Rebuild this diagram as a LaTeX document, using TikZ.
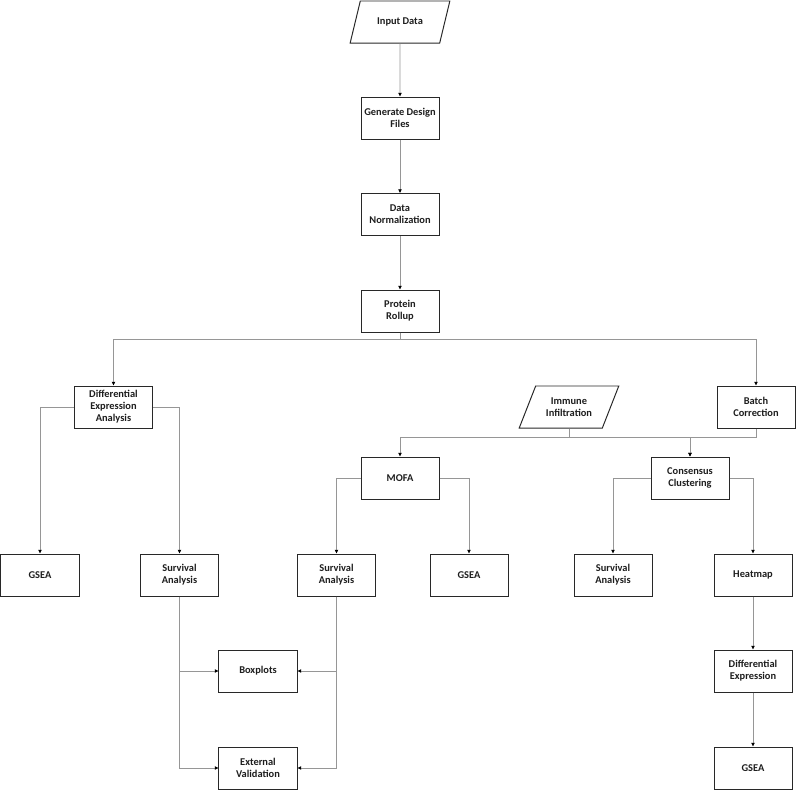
\documentclass[tikz,border=0pt]{standalone}
\usepackage{fontspec}
\setmainfont{Carlito}
\usepackage{tikz}
\usetikzlibrary{arrows.meta,positioning,shapes.geometric}
\definecolor{boxline}{RGB}{40,40,40}
\definecolor{wireline}{RGB}{150,150,150}
\definecolor{txtcolor}{RGB}{30,30,30}
\tikzset{
  box/.style    = {draw=boxline,line width=0.7pt,fill=white,
                   minimum width=1.95cm,minimum height=1.05cm,
                   align=center,inner sep=1pt,
                   font=\fontsize{7.4}{8.6}\selectfont\bfseries,text=txtcolor},
  para/.style   = {box,trapezium,trapezium left angle=61,trapezium right angle=119,
                   trapezium stretches=true,minimum width=2.5cm},
  arrow/.style  = {-{Triangle[length=2.6pt,width=2.4pt,color=black]},
                   color=wireline,line width=0.5pt},
}
\begin{document}
\begin{tikzpicture}[x=0.025cm,y=-0.025cm]
  \useasboundingbox (0,0) rectangle (797,790);
  % main trunk
  \node[para] (input)  at (400,22)    {Input Data};
  \node[box]  (design) at (400,118)   {Generate Design\\Files};
  \node[box]  (norm)   at (400,214.5) {Data\\Normalization};
  \node[box]  (rollup) at (400,311)   {Protein\\Rollup};
  % second level
  \node[box]  (dea)    at (113.5,407) {Differential\\Expression\\Analysis};
  \node[para] (immune) at (569,407)   {Immune\\Infiltration};
  \node[box]  (batch)  at (756,407)   {Batch\\Correction};
  \node[box]  (mofa)   at (400,478)   {MOFA};
  \node[box]  (cons)   at (690,478)   {Consensus\\Clustering};
  % result row
  \node[box]  (gseaA)  at (40,575)    {GSEA};
  \node[box]  (survA)  at (179.5,575) {Survival\\Analysis};
  \node[box]  (survB)  at (336.5,575) {Survival\\Analysis};
  \node[box]  (gseaB)  at (469,575)   {GSEA};
  \node[box]  (survC)  at (613,575)   {Survival\\Analysis};
  \node[box]  (heat)   at (753,575)   {Heatmap};
  \node[box]  (boxpl)  at (258,671)   {Boxplots};
  \node[box]  (extval) at (258,768)   {External\\Validation};
  \node[box]  (diffex) at (753,671)   {Differential\\Expression};
  \node[box]  (gseaC)  at (753,768)   {GSEA};

  \draw[arrow] (input) -- (design);
  \draw[arrow] (design) -- (norm);
  \draw[arrow] (norm) -- (rollup);
  \draw[arrow] (rollup.south) -- ++(0,7) -| (dea.north);
  \draw[arrow] (rollup.south) -- ++(0,7) -| (batch.north);
  \draw[arrow] (immune.south) -- ++(0,9) -| (mofa.north);
  \draw[arrow] (immune.south) -- ++(0,9) -| (cons.north);
  \draw[arrow] (batch.south) -- ++(0,9) -| (cons.north);
  \draw[arrow] (dea.west) -| (gseaA.north);
  \draw[arrow] (dea.east) -| (survA.north);
  \draw[arrow] (mofa.west) -| (survB.north);
  \draw[arrow] (mofa.east) -| (gseaB.north);
  \draw[arrow] (cons.west) -| (survC.north);
  \draw[arrow] (cons.east) -| (heat.north);
  \draw[arrow] (survA.south) |- (boxpl.west);
  \draw[arrow] (survA.south) |- (extval.west);
  \draw[arrow] (survB.south) |- (boxpl.east);
  \draw[arrow] (survB.south) |- (extval.east);
  \draw[arrow] (heat) -- (diffex);
  \draw[arrow] (diffex) -- (gseaC);
\end{tikzpicture}
\end{document}
